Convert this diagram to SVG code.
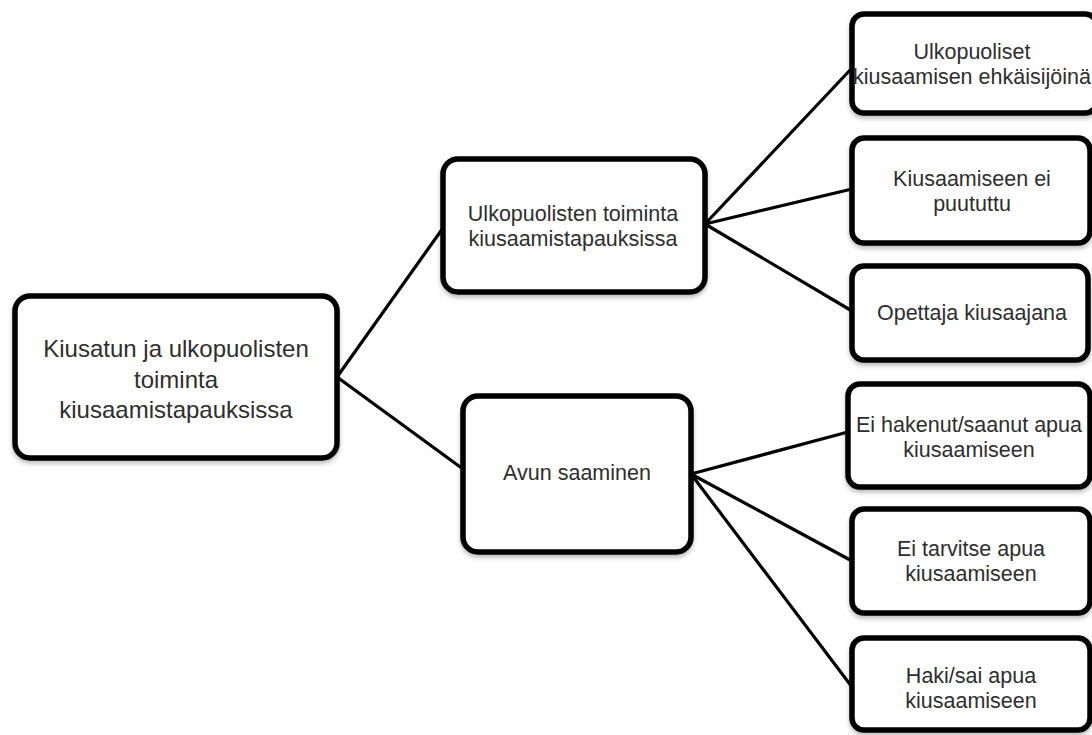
<svg xmlns="http://www.w3.org/2000/svg" width="1092" height="735" viewBox="0 0 1092 735">
<defs>
<filter id="sh" x="-10%" y="-10%" width="120%" height="130%">
<feDropShadow dx="0" dy="3" stdDeviation="2" flood-color="#000" flood-opacity="0.25"/>
</filter>
<style>
.box{fill:#fff;stroke:#000;stroke-width:5.5;filter:url(#sh)}
.t{font-family:"Liberation Sans",Arial,sans-serif;fill:#2e2e2e;text-anchor:middle}
.big{font-size:24px}
.sm{font-size:21.5px}
.c{stroke:#000;stroke-width:3.2;fill:none;stroke-linecap:round}
</style>
</defs>
<rect width="1092" height="735" fill="#fff"/>
<g id="connectors">
<line class="c" x1="337" y1="377" x2="443" y2="228"/>
<line class="c" x1="337" y1="377" x2="463" y2="469"/>
<line class="c" x1="705" y1="224" x2="852" y2="68"/>
<line class="c" x1="705" y1="224" x2="852" y2="189"/>
<line class="c" x1="705" y1="224" x2="852" y2="311"/>
<line class="c" x1="691" y1="474" x2="848" y2="432"/>
<line class="c" x1="691" y1="474" x2="852" y2="561"/>
<line class="c" x1="691" y1="474" x2="852" y2="687"/>
</g>
<g id="root">
<rect class="box" x="15" y="296" width="322" height="162" rx="15"/>
<text class="t big" x="176" y="357">Kiusatun ja ulkopuolisten</text>
<text class="t big" x="176" y="388">toiminta</text>
<text class="t big" x="176" y="418">kiusaamistapauksissa</text>
</g>
<g id="n-ulkopuolisten">
<rect class="box" x="443" y="159" width="262" height="133" rx="15"/>
<text class="t sm" x="573" y="221">Ulkopuolisten toiminta</text>
<text class="t sm" x="573" y="245.5">kiusaamistapauksissa</text>
</g>
<g id="n-avun">
<rect class="box" x="463" y="396" width="228" height="156" rx="15"/>
<text class="t sm" x="577" y="480">Avun saaminen</text>
</g>
<g id="n-ehkaisijoina">
<rect class="box" x="852" y="14" width="245" height="99" rx="12"/>
<text class="t sm" x="972" y="59">Ulkopuoliset</text>
<text class="t sm" x="972" y="84">kiusaamisen ehkäisijöinä</text>
</g>
<g id="n-eipuututtu">
<rect class="box" x="852" y="138" width="238" height="105" rx="12"/>
<text class="t sm" x="972" y="186">Kiusaamiseen ei</text>
<text class="t sm" x="972" y="210.5">puututtu</text>
</g>
<g id="n-opettaja">
<rect class="box" x="852" y="266" width="236" height="94" rx="12"/>
<text class="t sm" x="972" y="320">Opettaja kiusaajana</text>
</g>
<g id="n-eihakenut">
<rect class="box" x="848" y="384" width="242" height="103" rx="12"/>
<text class="t sm" x="969" y="432">Ei hakenut/saanut apua</text>
<text class="t sm" x="969" y="456.5">kiusaamiseen</text>
</g>
<g id="n-eitarvitse">
<rect class="box" x="852" y="509" width="238" height="104" rx="12"/>
<text class="t sm" x="971" y="556">Ei tarvitse apua</text>
<text class="t sm" x="971" y="580.5">kiusaamiseen</text>
</g>
<g id="n-haki">
<rect class="box" x="852" y="638" width="238" height="92" rx="12"/>
<text class="t sm" x="971" y="683">Haki/sai apua</text>
<text class="t sm" x="971" y="707.5">kiusaamiseen</text>
</g>
</svg>
